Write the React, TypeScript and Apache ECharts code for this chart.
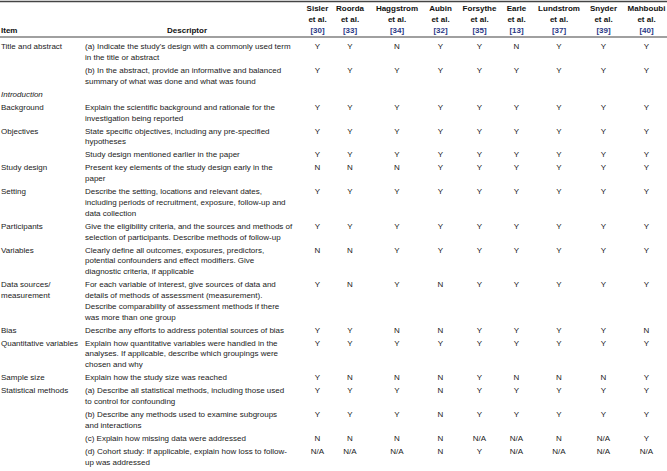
import React, { useEffect, useRef } from "react";
import * as echarts from "echarts";

const studies = ["Sisler", "Roorda", "Haggstrom", "Aubin", "Forsythe", "Earle", "Lundstrom", "Snyder", "Mahboubi"];
const refs = ["[30]", "[33]", "[34]", "[32]", "[35]", "[13]", "[37]", "[39]", "[40]"];

const items = [
  "Title and abstract",
  "",
  "Introduction",
  "Background",
  "Objectives",
  "",
  "Study design",
  "Setting",
  "Participants",
  "Variables",
  "Data sources/\nmeasurement",
  "Bias",
  "Quantitative variables",
  "Sample size",
  "Statistical methods",
  "",
  "",
  "",
];

const descriptors = [
  "(a) Indicate the study's design with a commonly used term\nin the title or abstract",
  "(b) In the abstract, provide an informative and balanced\nsummary of what was done and what was found",
  "",
  "Explain the scientific background and rationale for the\ninvestigation being reported",
  "State specific objectives, including any pre-specified\nhypotheses",
  "Study design mentioned earlier in the paper",
  "Present key elements of the study design early in the\npaper",
  "Describe the setting, locations and relevant dates,\nincluding periods of recruitment, exposure, follow-up and\ndata collection",
  "Give the eligibility criteria, and the sources and methods of\nselection of participants. Describe methods of follow-up",
  "Clearly define all outcomes, exposures, predictors,\npotential confounders and effect modifiers. Give\ndiagnostic criteria, if applicable",
  "For each variable of interest, give sources of data and\ndetails of methods of assessment (measurement).\nDescribe comparability of assessment methods if there\nwas more than one group",
  "Describe any efforts to address potential sources of bias",
  "Explain how quantitative variables were handled in the\nanalyses. If applicable, describe which groupings were\nchosen and why",
  "Explain how the study size was reached",
  "(a) Describe all statistical methods, including those used\nto control for confounding",
  "(b) Describe any methods used to examine subgroups\nand interactions",
  "(c) Explain how missing data were addressed",
  "(d) Cohort study: If applicable, explain how loss to follow-\nup was addressed",
];

const sectionRows = [2];

const ratings: string[][] = [
  ["Y", "Y", "N", "Y", "Y", "N", "Y", "Y", "Y"],
  ["Y", "Y", "Y", "Y", "Y", "Y", "Y", "Y", "Y"],
  [],
  ["Y", "Y", "Y", "Y", "Y", "Y", "Y", "Y", "Y"],
  ["Y", "Y", "Y", "Y", "Y", "Y", "Y", "Y", "Y"],
  ["Y", "Y", "Y", "Y", "Y", "Y", "Y", "Y", "Y"],
  ["N", "N", "N", "Y", "Y", "Y", "Y", "Y", "Y"],
  ["Y", "Y", "Y", "Y", "Y", "Y", "Y", "Y", "Y"],
  ["Y", "Y", "Y", "Y", "Y", "Y", "Y", "Y", "Y"],
  ["N", "N", "Y", "Y", "Y", "Y", "Y", "Y", "Y"],
  ["Y", "N", "Y", "N", "Y", "Y", "Y", "Y", "Y"],
  ["Y", "Y", "N", "N", "Y", "Y", "Y", "Y", "N"],
  ["Y", "Y", "Y", "Y", "Y", "Y", "Y", "Y", "Y"],
  ["Y", "N", "N", "N", "Y", "N", "N", "N", "Y"],
  ["Y", "Y", "Y", "N", "Y", "Y", "Y", "Y", "Y"],
  ["Y", "Y", "Y", "N", "Y", "Y", "Y", "Y", "Y"],
  ["N", "N", "N", "N", "N/A", "N/A", "N", "N/A", "Y"],
  ["N/A", "N/A", "N/A", "N", "Y", "N/A", "N/A", "N/A", "N/A"],
];

const FONT = "'Liberation Sans', Arial, Helvetica, sans-serif";
const colX = [317.5, 350, 397, 440.5, 479.5, 516.5, 559, 603.5, 646.5];
const ITEM_X = 1;
const DESC_X = 85;
const FS = 8;
const LH = 10.8;
const PAD = 2.2;
const FIRST_CENTER = 46.7;

export default function App() {
  const ref = useRef<HTMLDivElement>(null);
  useEffect(() => {
    const chart = echarts.init(ref.current!, null, { renderer: "svg" });
    const g: any[] = [];
    const bold = `bold ${FS}px ${FONT}`;
    const reg = `${FS}px ${FONT}`;
    // rules
    g.push({ type: "line", shape: { x1: 0, y1: 1.5, x2: 667, y2: 1.5 }, style: { stroke: "#444", lineWidth: 1.6 } });
    g.push({ type: "line", shape: { x1: 0, y1: 37, x2: 667, y2: 37 }, style: { stroke: "#a0a0a0", lineWidth: 1.8 } });
    // header
    g.push({ type: "text", x: ITEM_X, y: 30, style: { text: "Item", font: bold, fill: "#111", verticalAlign: "middle" } });
    g.push({ type: "text", x: 187, y: 30, style: { text: "Descriptor", font: bold, fill: "#111", align: "center", verticalAlign: "middle" } });
    studies.forEach((s, i) => {
      g.push({ type: "text", x: colX[i], y: 8.5, style: { text: s, font: bold, fill: "#111", align: "center", verticalAlign: "middle" } });
      g.push({ type: "text", x: colX[i], y: 19.3, style: { text: "et al.", font: bold, fill: "#111", align: "center", verticalAlign: "middle" } });
      g.push({ type: "text", x: colX[i], y: 30, style: { text: refs[i], font: bold, fill: "#2b3a86", align: "center", verticalAlign: "middle" } });
    });
    // rows
    let y = FIRST_CENTER - LH / 2;
    items.forEach((it, r) => {
      const nLines = Math.max(it ? it.split("\n").length : 1, descriptors[r] ? descriptors[r].split("\n").length : 1);
      const isSection = sectionRows.includes(r);
      if (it) {
        g.push({ type: "text", x: ITEM_X, y, style: { text: it, font: `${isSection ? "italic " : ""}${FS}px ${FONT}`, fill: "#222", verticalAlign: "top", lineHeight: LH } });
      }
      if (descriptors[r]) {
        g.push({ type: "text", x: DESC_X, y, style: { text: descriptors[r], font: reg, fill: "#222", verticalAlign: "top", lineHeight: LH } });
      }
      ratings[r].forEach((v, c) => {
        g.push({ type: "text", x: colX[c], y, style: { text: v, font: reg, fill: "#222", align: "center", verticalAlign: "top", lineHeight: LH } });
      });
      y += nLines * LH + PAD;
    });
    chart.setOption({ animation: false, graphic: g });
    return () => chart.dispose();
  }, []);
  return <div ref={ref} style={{ position: "fixed", left: 0, top: 0, width: 667, height: 471, background: "#fff" }} />;
}
